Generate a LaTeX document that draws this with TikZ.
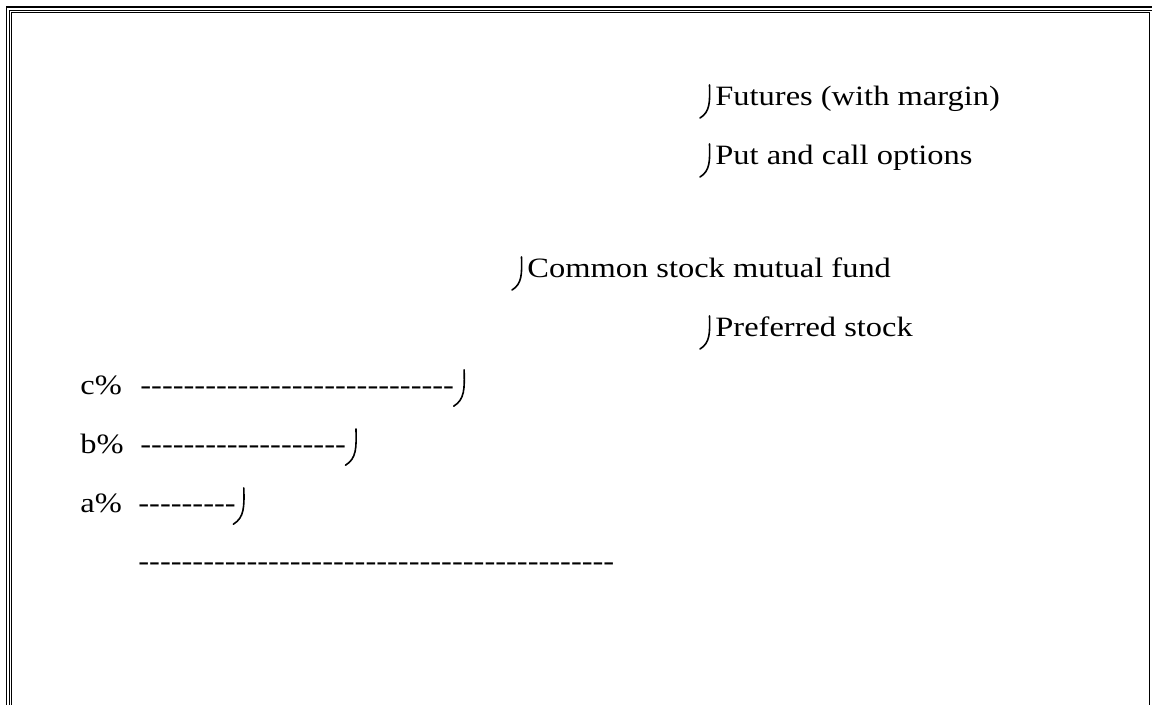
\documentclass[tikz,border=0pt]{standalone}
\usepackage{fontspec}
\setmainfont[FakeStretch=1.16]{Liberation Serif}
\newcommand\hyph[1]{\foreach\i in {1,...,#1}{-{}}}
\tikzset{
  lbl/.style={anchor=base west, inner sep=0pt, font=\fontsize{14pt}{16pt}\selectfont},
  frame/.style={line width=0.55pt, black},
  jhook/.pic={\draw[line width=0.8pt, line cap=round] (1.5,-21) .. controls (2,-4) and (2,6) .. (-8,12);},
}
\begin{document}
\begin{tikzpicture}[x=0.5pt, y=-0.5pt]
\useasboundingbox (0,0) rectangle (1152,705);
% frame lines
\draw[frame] (6.5,705) -- (6.5,7) -- (1152,7);
\draw[frame] (9.5,705) -- (9.5,10.5) -- (1152,10.5);
\draw[frame] (11.5,705) -- (11.5,12.5) -- (1149.5,12.5) -- (1149.5,705);
% labels
\node[lbl] (fut) at (715,106) {Futures (with margin)};
\pic at (708,106) {jhook};
\node[lbl] (put) at (715,165) {Put and call options};
\pic at (708,165) {jhook};
\node[lbl] (cmf) at (527,278) {Common stock mutual fund};
\pic at (520,278) {jhook};
\node[lbl] (pref) at (715,337) {Preferred stock};
\pic at (708,337) {jhook};
\node[lbl] (c) at (80,395) {c\%};
\node[lbl] (cd) at (140,395) {\hyph{29}};
\pic[scale=1.1] at ([xshift=4pt,yshift=1pt]cd.base east) {jhook};
\node[lbl] (b) at (80,454) {b\%};
\node[lbl] (bd) at (140,454) {\hyph{19}};
\pic[scale=1.1] at ([xshift=4pt,yshift=1pt]bd.base east) {jhook};
\node[lbl] (a) at (80,513) {a\%};
\node[lbl] (ad) at (138,513) {\hyph{9}};
\pic[scale=1.1] at ([xshift=3pt,yshift=1pt]ad.base east) {jhook};
\node[lbl] (axis) at (138,571) {\hyph{44}};
\end{tikzpicture}
\end{document}
